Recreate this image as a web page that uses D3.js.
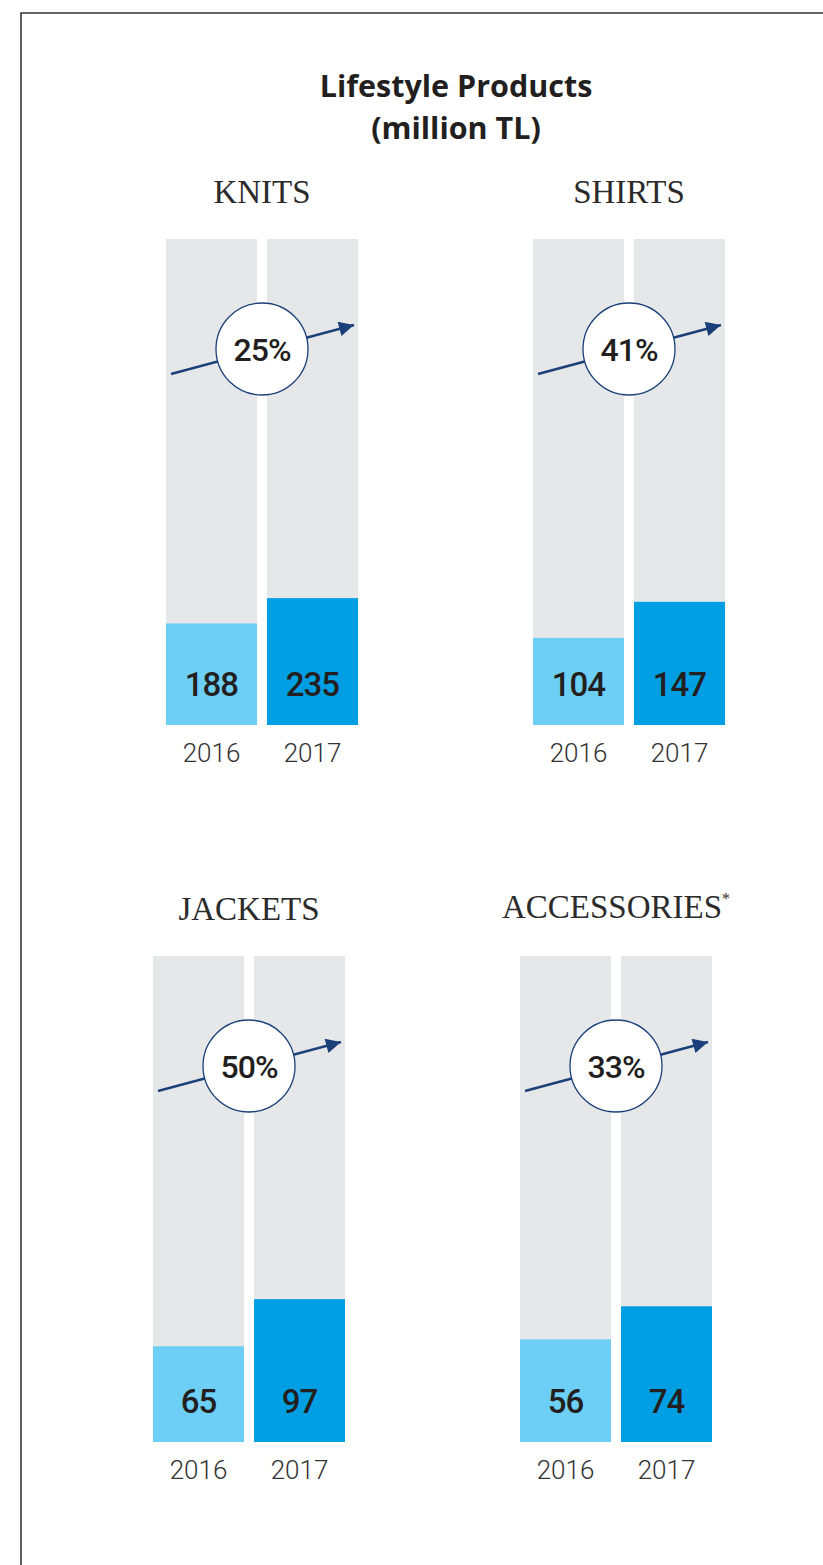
<!DOCTYPE html>
<html>
<head>
<meta charset="utf-8">
<script src="https://cdn.jsdelivr.net/npm/d3@7"></script>
<style>
  body { margin: 0; background: #fff; }
  svg { display: block; }
</style>
</head>
<body>
<div id="chart"></div>
<script>
// data
const categories = ["KNITS", "SHIRTS", "JACKETS", "ACCESSORIES"]
const footnoteMark = ["", "", "", "*"]
const years = ["2016", "2017"]
const values2016 = [188, 104, 65, 56]
const values2017 = [235, 147, 97, 74]
const growthLabels = ["25%", "41%", "50%", "33%"]
// each panel uses its own value axis (the bars are not on a shared scale)
const panelMax = [900, 580, 330, 265]

const width = 823, height = 1565
const barH = 486, groupW = 192
// panel origins (top-left of the grey bars)
const origins = [[166, 239], [533, 239], [153, 956], [520, 956]]

const colors = { bg: "#e6e7e8", y2016: "#6dcff6", y2017: "#009fe3", ink: "#231f20", navy: "#1b4079" }

const svg = d3.select("#chart").append("svg")
	.attr("width", width)
	.attr("height", height)

svg.append("defs").append("marker")
	.attr("id", "arrowhead")
	.attr("viewBox", "0 0 10 10")
	.attr("refX", 10)
	.attr("refY", 5)
	.attr("markerUnits", "userSpaceOnUse")
	.attr("markerWidth", 20)
	.attr("markerHeight", 15)
	.attr("orient", "auto")
	.append("path")
	.attr("d", "M0,0 L10,5 L0,10 z")
	.attr("fill", colors.navy)

// frame
svg.append("path")
	.attr("d", `M21,${height} V13 H${width}`)
	.attr("fill", "none")
	.attr("stroke", "#333")
	.attr("stroke-width", 1.6)

// main title
const title = svg.append("text")
	.attr("text-anchor", "middle")
	.attr("font-family", "'Open Sans', Lato, sans-serif")
	.attr("font-weight", 700)
	.attr("font-size", 30.5)
	.attr("fill", colors.ink)
title.append("tspan").attr("x", 456).attr("y", 97).text("Lifestyle Products")
title.append("tspan").attr("x", 456).attr("y", 139).text("(million TL)")

const x = d3.scaleBand()
	.domain(years)
	.range([0, groupW])
	.paddingInner(10 / 101)

categories.forEach((name, i) => {
	const [ox, oy] = origins[i]
	const y = d3.scaleLinear().domain([0, panelMax[i]]).range([barH, 0])
	const rows = [
		{ year: years[0], value: values2016[i], color: colors.y2016 },
		{ year: years[1], value: values2017[i], color: colors.y2017 }
	]
	const g = svg.append("g").attr("transform", `translate(${ox},${oy})`)

	// category heading
	const head = g.append("text")
		.attr("x", groupW / 2)
		.attr("y", i === 3 ? -38 : -36)
		.attr("text-anchor", "middle")
		.attr("font-family", "'Liberation Serif', 'DejaVu Serif', serif")
		.attr("font-size", 33)
		.attr("fill", "#2b2b2b")
		.text(name)
	if (footnoteMark[i]) {
		head.append("tspan")
			.attr("font-size", 16)
			.attr("dy", -14)
			.text(footnoteMark[i])
	}

	// background columns
	g.selectAll("rect.bg")
		.data(rows)
		.join("rect")
		.attr("class", "bg")
		.attr("x", d => x(d.year))
		.attr("y", 0)
		.attr("width", x.bandwidth())
		.attr("height", barH)
		.attr("fill", colors.bg)

	// value bars
	g.selectAll("rect.bar")
		.data(rows)
		.join("rect")
		.attr("class", "bar")
		.attr("x", d => x(d.year))
		.attr("y", d => y(d.value))
		.attr("width", x.bandwidth())
		.attr("height", d => barH - y(d.value))
		.attr("fill", d => d.color)

	g.selectAll("text.val")
		.data(rows)
		.join("text")
		.attr("class", "val")
		.attr("x", d => x(d.year) + x.bandwidth() / 2)
		.attr("y", barH - 29)
		.attr("text-anchor", "middle")
		.attr("font-family", "Roboto, sans-serif")
		.attr("font-weight", 500)
		.attr("font-size", 33)
		.attr("letter-spacing", -1)
		.attr("fill", colors.ink)
		.text(d => d.value)

	g.selectAll("text.year")
		.data(rows)
		.join("text")
		.attr("class", "year")
		.attr("x", d => x(d.year) + x.bandwidth() / 2)
		.attr("y", barH + 37)
		.attr("text-anchor", "middle")
		.attr("font-family", "Roboto, sans-serif")
		.attr("font-weight", 300)
		.attr("font-size", 26)
		.attr("fill", "#333")
		.text(d => d.year)

	// growth arrow with badge
	g.append("line")
		.attr("x1", 5)
		.attr("y1", 135)
		.attr("x2", groupW - 4)
		.attr("y2", 86)
		.attr("stroke", colors.navy)
		.attr("stroke-width", 2.5)
		.attr("marker-end", "url(#arrowhead)")

	g.append("circle")
		.attr("cx", groupW / 2)
		.attr("cy", 110)
		.attr("r", 46)
		.attr("fill", "#fff")
		.attr("stroke", colors.navy)
		.attr("stroke-width", 1.3)

	g.append("text")
		.attr("x", groupW / 2)
		.attr("y", 110)
		.attr("dy", "0.36em")
		.attr("text-anchor", "middle")
		.attr("font-family", "Roboto, sans-serif")
		.attr("font-weight", 500)
		.attr("font-size", 32)
		.attr("letter-spacing", -1)
		.attr("fill", colors.ink)
		.text(growthLabels[i])
})
</script>
</body>
</html>
